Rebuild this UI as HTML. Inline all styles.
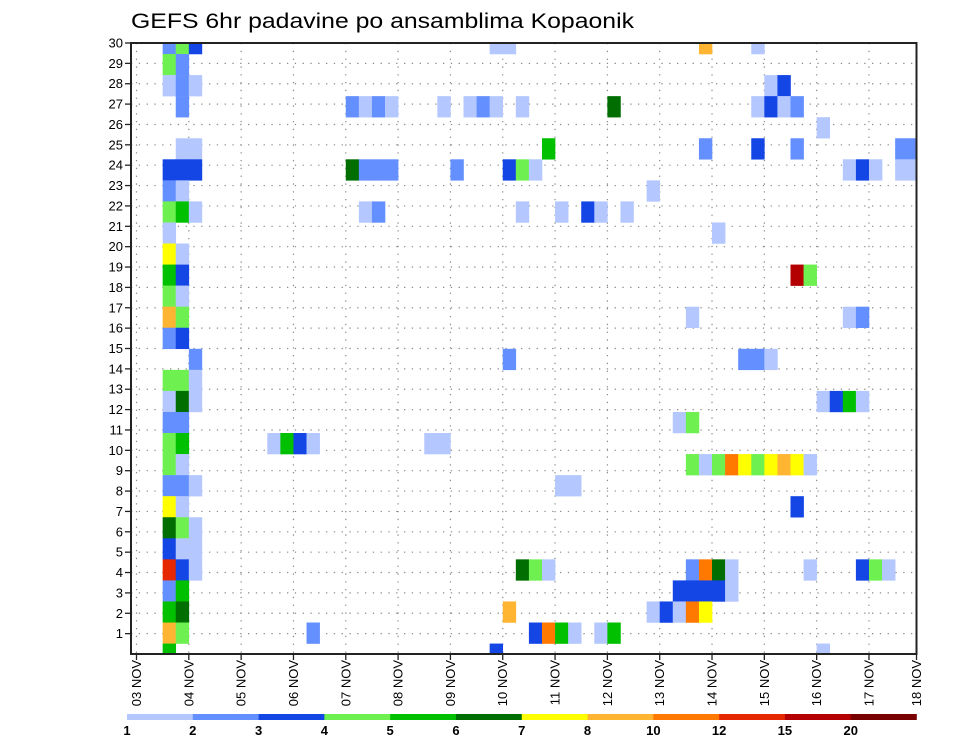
<!DOCTYPE html>
<html><head><meta charset="utf-8"><style>
html,body{margin:0;padding:0;background:#fff;}
svg{display:block;font-family:"Liberation Sans",sans-serif;}
</style></head><body>
<svg id="chart" width="960" height="742" viewBox="0 0 960 742" xmlns="http://www.w3.org/2000/svg">
<rect width="960" height="742" fill="#fff"/>
<text x="131" y="28" font-size="21" textLength="503" lengthAdjust="spacingAndGlyphs" fill="#000">GEFS 6hr padavine po ansamblima Kopaonik</text>
<defs><clipPath id="plotclip"><rect x="131" y="43" width="785.5" height="611"/></clipPath></defs>
<g id="grid"></g>
<g id="cells" clip-path="url(#plotclip)"></g>
<rect x="131" y="43" width="785.5" height="611" fill="none" stroke="#222" stroke-width="2"/>
<g id="axes"></g>
<g id="colorbar"></g>
</svg>
<script>
const steps =   [2,3,4, 2,3, 2,3,4, 3,16,17,18,19, 3,4, 2,3,4,16,17,18,19, 2,3, 2,3,4,17,18, 2, 2,3, 2,3, 2,3, 2,3, 2,3, 4, 2,3,4, 2,3,4, 2,3, 2,3,10,11,12,13, 2,3, 2,3,4, 2,3, 2,3,4, 2,3,4, 2,3,4, 2,3, 2,3, 2,3,13, 2,
 27,28, 23,25,26,27,29,36, 31, 24,28,29,30, 39, 29,32,34,35,37, 28, 22,23, 32,33, 29,30,31, 28,39, 30,31,32,33,35,36, 27,
 43,47, 48,49, 47,48,49,50, 52, 43,47,50,58,59, 54,55,56,58,59, 44, 50,51, 42,54,55, 46,47,48, 52,53,54,55, 41,42, 42,43,44,45,46,47,48,49,50,51, 50, 42,43,44,45,51,55,56,57, 41,42,43,44,45, 40,41,42,43, 52];
const members = [30,30,30, 29,29, 28,28,28, 27,27,27,27,27, 25,25, 24,24,24,24,24,24,24, 23,23, 22,22,22,22,22, 21, 20,20, 19,19, 18,18, 17,17, 16,16, 15, 14,14,14, 13,13,13, 12,12, 11,11,11,11,11,11, 10,10, 9,9,9, 8,8, 7,7,7, 6,6,6, 5,5,5, 4,4, 3,3, 2,2,2, 1,
 30,30, 27,27,27,27,27,27, 25, 24,24,24,24, 23, 22,22,22,22,22, 15, 11,11, 9,9, 5,5,5, 3,3, 2,2,2,2,2,2, 1,
 30,30, 28,28, 27,27,27,27, 26, 25,25,25,25,25, 24,24,24,24,24, 21, 19,19, 17,17,17, 15,15,15, 13,13,13,13, 12,12, 10,10,10,10,10,10,10,10,10,10, 8, 5,5,5,5,5,5,5,5, 4,4,4,4,4, 3,3,3,3, 1];
const values =  [2.5,4.5,3.5, 4.5,2.5, 1.5,2.5,1.5, 2.5,2.5,1.5,2.5,1.5, 1.5,1.5, 3.5,3.5,3.5,6.5,2.5,2.5,2.5, 2.5,1.5, 4.5,5.5,1.5,1.5,2.5, 1.5, 7.5,1.5, 5.5,3.5, 4.5,1.5, 9,4.5, 2.5,3.5, 2.5, 4.5,4.5,1.5, 1.5,6.5,1.5, 2.5,2.5, 4.5,5.5,1.5,5.5,3.5,1.5, 4.5,1.5, 2.5,2.5,1.5, 7.5,1.5, 6.5,4.5,1.5, 3.5,1.5,1.5, 13.5,3.5,1.5, 2.5,5.5, 5.5,6.5, 9,4.5,2.5, 5.5,
 1.5,1.5, 1.5,1.5,2.5,1.5,1.5,6.5, 5.5, 2.5,3.5,4.5,1.5, 1.5, 1.5,1.5,3.5,1.5,1.5, 2.5, 1.5,1.5, 1.5,1.5, 6.5,4.5,1.5, 9,1.5, 3.5,11,5.5,1.5,1.5,5.5, 3.5,
 9,1.5, 1.5,3.5, 1.5,3.5,1.5,2.5, 1.5, 2.5,3.5,2.5,2.5,2.5, 1.5,3.5,1.5,1.5,1.5, 1.5, 17,4.5, 1.5,1.5,2.5, 2.5,2.5,1.5, 1.5,3.5,5.5,1.5, 1.5,4.5, 4.5,1.5,4.5,11,7.5,4.5,7.5,9,7.5,1.5, 3.5, 2.5,11,6.5,1.5,1.5,3.5,4.5,1.5, 3.5,3.5,3.5,3.5,1.5, 3.5,1.5,11,7.5, 1.5];
const levels = [1,2,3,4,5,6,7,8,10,12,15,20];
const levelLabels = ["1","2","3","4","5","6","7","8","10","12","15","20"];
const dayLabels = ["03 NOV","04 NOV","05 NOV","06 NOV","07 NOV","08 NOV","09 NOV","10 NOV","11 NOV","12 NOV","13 NOV","14 NOV","15 NOV","16 NOV","17 NOV","18 NOV"];
const yTicks = [1,2,3,4,5,6,7,8,9,10,11,12,13,14,15,16,17,18,19,20,21,22,23,24,25,26,27,28,29,30];

const colors = ["#b4c8ff","#6490ff","#1446e6","#6ef050","#00c000","#006e00","#ffff00","#ffb432","#ff7800","#e62800","#b40000","#780000"];
const NS = "http://www.w3.org/2000/svg";
const X0 = 136.5, STEP = 13.08, RIGHT = 916.5;
function xStep(k){ return X0 + STEP*k; }
function xDay(d){ return Math.min(X0 + STEP*4*d, RIGHT); }
function yCell(m){ return 43.5 + 21.055*(30-m); }
function yTick(r){ return 654 - r*(611/30); }
function colorFor(v){ let i=-1; for(let j=0;j<levels.length;j++){ if(v>=levels[j]) i=j; } return i<0?null:colors[i]; }
function mk(tag, attrs, parent){ const e=document.createElementNS(NS,tag); for(const a in attrs) e.setAttribute(a,attrs[a]); parent.appendChild(e); return e; }

const grid = document.getElementById('grid');
for (const r of yTicks){
  if (r===30) continue;
  const l = mk('line',{x1:131,x2:RIGHT,y1:yTick(r),y2:yTick(r),stroke:'#8a8a8a','stroke-width':1.2,'stroke-dasharray':'1.3 6.5'},grid);
  
  
}
for (let d=0; d<dayLabels.length-1; d++){
  const l = mk('line',{x1:xDay(d),x2:xDay(d),y1:43,y2:654,stroke:'#8a8a8a','stroke-width':1.2,'stroke-dasharray':'1.3 6.5'},grid);
  
  
}

const cells = document.getElementById('cells');
for (let i=0;i<steps.length;i++){
  const c = colorFor(values[i]); if(!c) continue;
  const r = mk('rect',{x:xStep(steps[i]),y:yCell(members[i])-10.53,width:STEP+0.3,height:21.3,fill:c},cells);
  
  
}

const axes = document.getElementById('axes');
for (const r of yTicks){
  const y = yTick(r);
  const t = mk('line',{x1:125,x2:131,y1:y,y2:y,stroke:'#222','stroke-width':1.3},axes);
  
  
  const tx = mk('text',{x:123,y:y+4.5,'font-size':13,'text-anchor':'end',fill:'#000'},axes);
  tx.textContent = r;
  
  
}
for (let d=0; d<dayLabels.length; d++){
  const x = xDay(d);
  const t = mk('line',{x1:x,x2:x,y1:654,y2:660,stroke:'#222','stroke-width':1.3},axes);
  
  
  const tx = mk('text',{x:0,y:0,'font-size':13,'text-anchor':'end',fill:'#000',transform:'translate('+(x+4.5)+',660) rotate(-90)'},axes);
  tx.textContent = dayLabels[d];
  
  
}

const cb = document.getElementById('colorbar');
const CBX = 127, CBW = (916.5-127)/12;
for (let i=0;i<levels.length;i++){
  const r = mk('rect',{x:CBX+i*CBW,y:714,width:CBW+0.3,height:6,fill:colors[i]},cb);
  
  
  const tx = mk('text',{x:CBX+i*CBW,y:735,'font-size':13,'font-weight':'bold','text-anchor':'middle',fill:'#000'},cb);
  tx.textContent = levelLabels[i];
  
  
}
</script>
</body></html>
